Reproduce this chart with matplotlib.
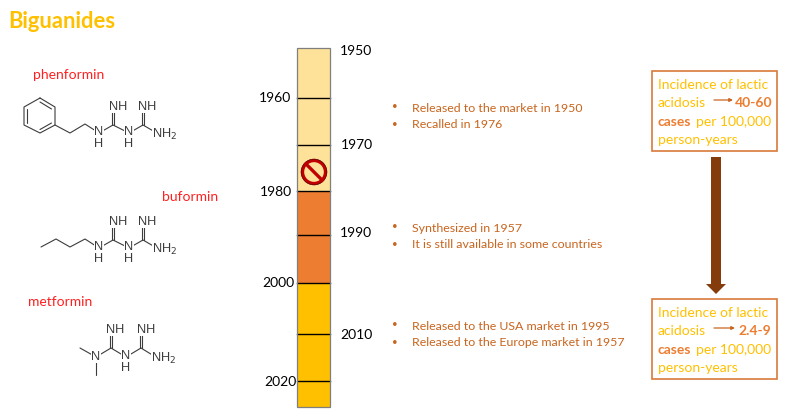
"""Biguanides timeline slide, drawn on an axes that runs in picture pixels."""
import numpy as np
import matplotlib
matplotlib.use("Agg")
import matplotlib.pyplot as plt
from matplotlib.patches import Circle, Polygon, Rectangle

plt.rcParams["font.family"] = ["Lato", "DejaVu Sans"]

# --- Data ---
TITLE = "Biguanides"
DRUGS = ["phenformin", "buformin", "metformin"]
TICK_YEARS = [1950, 1960, 1970, 1980, 1990, 2000, 2010, 2020]
BAR_END_YEAR = 2025
PERIOD_STARTS = [1950, 1980, 2000]
PERIOD_ENDS = [1980, 2000, BAR_END_YEAR]
PERIOD_COLORS = ["#FFE29A", "#ED7D31", "#FFC000"]
NOTES = [
    ["Released to the market in 1950", "Recalled in 1976"],
    ["Synthesized in 1957", "It is still available in some countries"],
    ["Released to the USA market in 1995", "Released to the Europe market in 1957"],
]
INCIDENCE = ["40-60", "2.4-9"]

# --- Layout ---
YEAR_PIXELS = [48, 98, 145, 191, 235, 283, 334, 381]  # the ruler is not quite even
PX_PER_YEAR_END = 5.2
NOTE_ROWS = [(108, 125), (228, 245), (326, 343)]
DRUG_POS = [(33, 75), (162, 197), (28, 302)]
BOX_TOPS = [71, 299]
ORANGE = "#ED7D31"
NOTE_COLOR = "#C8651E"
GOLD = "#FFC000"
BOND = "#3c3c3c"


def year_y(year):
    if year > TICK_YEARS[-1]:
        return YEAR_PIXELS[-1] + (year - TICK_YEARS[-1]) * PX_PER_YEAR_END
    return float(np.interp(year, TICK_YEARS, YEAR_PIXELS))


def bond(ax, pts, lw=0.8):
    xs, ys = zip(*pts)
    ax.plot(xs, ys, color=BOND, lw=lw, solid_capstyle="round", zorder=2)


def atom(ax, x, y, s):
    ax.text(x, y, s, ha="center", va="center", fontsize=9.2, color=BOND,
            family=["Liberation Sans"], zorder=3, linespacing=0.95,
            bbox=dict(fc="white", ec="none", pad=0.2))


def biguanide_tail(ax, n1, c1, nh1, n2, c2, nh2, nh2_end, n1_label="N\nH"):
    """Shared N-C(=NH)-NH-C(=NH)-NH2 part of the three molecules."""
    bond(ax, [n1, c1, n2, c2, (nh2_end[0] - 10, nh2_end[1] - 2)])
    for c, nh in [(c1, nh1), (c2, nh2)]:
        for dx in (-1.2, 1.2):
            bond(ax, [(c[0] + dx, c[1]), (c[0] + dx, nh[1] + 5)])
        atom(ax, nh[0], nh[1], "NH")
    dy1 = 5 if "\n" in n1_label else 0
    atom(ax, n1[0], n1[1] + dy1, n1_label)
    atom(ax, n2[0], n2[1] + 5, "N\nH")
    atom(ax, nh2_end[0], nh2_end[1], "NH$_2$")


fig = plt.figure(figsize=(7.89, 4.18), dpi=100)
ax = fig.add_axes([0, 0, 1, 1])
ax.set_xlim(0, 789)
ax.set_ylim(418, 0)
ax.axis("off")

ax.text(8, 22, TITLE, fontsize=15.8, fontweight="bold", color=GOLD, va="center")
for name, (x, y) in zip(DRUGS, DRUG_POS):
    ax.text(x, y, name, fontsize=10, color="#FF2020", va="center")

# --- Molecules ---
ring = [(40, 98), (55, 107), (55, 125), (40, 133), (24, 125), (24, 107), (40, 98)]
bond(ax, ring)
for a, b in [((40, 102), (51.5, 109)), ((27.5, 109), (27.5, 123)), ((40, 129.5), (51.5, 123))]:
    bond(ax, [a, b])
bond(ax, [(55, 125), (70, 133), (85, 124), (99, 133)])
biguanide_tail(ax, (99, 133), (113, 125), (118, 107), (129, 133), (143, 125), (147, 107), (165, 134))

bond(ax, [(41, 247), (56, 239), (70, 247), (85, 239), (99, 248)])
biguanide_tail(ax, (99, 248), (113, 240), (118, 222), (129, 248), (143, 240), (147, 222), (165, 249))

bond(ax, [(80, 348), (96, 357)])
bond(ax, [(96, 357), (96, 375)])
biguanide_tail(ax, (96, 357), (111, 348), (115, 330), (126, 357), (141, 348), (146, 330), (164, 358),
               n1_label="N")

# --- Timeline ---
BAR_X, BAR_W = 297, 33
for start, end, color in zip(PERIOD_STARTS, PERIOD_ENDS, PERIOD_COLORS):
    top = year_y(start)
    ax.add_patch(Rectangle((BAR_X, top), BAR_W, year_y(end) - top, fc=color, ec="none", zorder=1))
ax.add_patch(Rectangle((BAR_X, year_y(1950)), BAR_W, year_y(BAR_END_YEAR) - year_y(1950),
                       fc="none", ec="#7f7f7f", lw=0.9, zorder=3))
for year in TICK_YEARS[1:]:
    y = year_y(year)
    ax.plot([BAR_X, BAR_X + BAR_W], [y, y], color="black", lw=1.0, zorder=2)

label_x = {1950: 340, 1960: 259, 1970: 341, 1980: 260, 1990: 340, 2000: 262, 2010: 340, 2020: 264}
label_dy = {1950: 3, 1960: 0, 1970: 0, 1980: 1, 1990: -2, 2000: 0, 2010: 1, 2020: 1}
for year in TICK_YEARS:
    ax.text(label_x[year], year_y(year) + label_dy[year], str(year), fontsize=10,
            color="black", va="center")

# Recalled marker on the phenformin period
ax.add_patch(Circle((314, 172), 11.5, fc="none", ec="#C00000", lw=2.4, zorder=4))
ax.add_patch(Circle((314, 172), 12.9, fc="none", ec="#3a1010", lw=0.4, zorder=4))
ax.plot([306, 322], [164, 180], color="#C00000", lw=2.4, zorder=4)

# --- Notes ---
for lines, rows in zip(NOTES, NOTE_ROWS):
    for line, y in zip(lines, rows):
        ax.text(392, y - 1, "•", fontsize=7, color=NOTE_COLOR, va="center")
        ax.text(412, y, line, fontsize=8.95, color=NOTE_COLOR, va="center")

# --- Incidence boxes ---
for top, value, arrow_end, value_x in zip(BOX_TOPS, INCIDENCE, (733, 735), (735, 738)):
    ax.add_patch(Rectangle((652, top), 125, 80, fc="white", ec="#D9793A", lw=1.2))
    ax.text(658, top + 14, "Incidence of lactic", fontsize=10, color=GOLD, va="center")
    ax.text(658, top + 32, "acidosis", fontsize=10, color=GOLD, va="center")
    ax.text(value_x, top + 32, value, fontsize=10, fontweight="bold", color=ORANGE, va="center")
    ax.text(658, top + 51, "cases", fontsize=10, fontweight="bold", color=ORANGE, va="center")
    ax.text(696, top + 51, "per 100,000", fontsize=10, color=GOLD, va="center")
    ax.text(658, top + 69, "person-years", fontsize=10, color=GOLD, va="center")
    ax.annotate("", xy=(arrow_end, top + 29), xytext=(714, top + 29),
                arrowprops=dict(arrowstyle="-|>", color="#C8651E", lw=0.9, mutation_scale=5,
                                shrinkA=0, shrinkB=0))

ax.add_patch(Polygon([(711, 157), (721, 157), (721, 284), (726, 284), (716, 294),
                      (706, 284), (711, 284)], fc="#843C0C", ec="none"))

fig.savefig("out.png", dpi=100)
